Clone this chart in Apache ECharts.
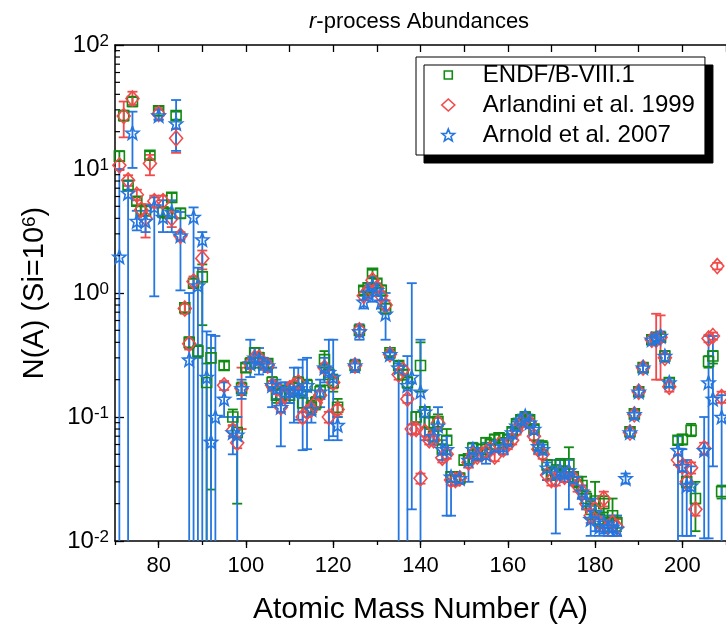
<!DOCTYPE html>
<html>
<head>
<meta charset="utf-8">
<script src="https://cdn.jsdelivr.net/npm/echarts@6/dist/echarts.min.js"></script>
<style>html,body{margin:0;padding:0;background:#fff}#c{width:726px;height:632px}</style>
</head>
<body>
<div id="c"></div>
<script>
// ---- data: [A, value, lower, upper] ----
const endf = [
[71,12.7,11.6,13.9],[72,27,24.5,29.5],[73,7.4,6.8,8.0],[74,35,32,38],[75,5.5,5.1,5.9],[76,4.6,4.2,5.0],[77,4.6,4.2,5.0],[78,12.9,12.0,13.9],
[80,29.5,27,32],[81,4.5,4.1,4.9],[82,4.4,4.0,4.8],[83,5.9,5.4,6.4],[84,27,25,29],[85,4.4,4.0,4.8],[86,0.76,0.7,0.82],[87,0.4,0.36,0.44],
[88,1.2,1.1,1.3],[89,0.34,0.3,0.38],[90,1.35,0.55,1.7],[91,0.19,0.001,0.27],[92,0.3,0.026,0.36],[95,0.26,0.24,0.28],[97,0.1,0.085,0.115],
[98,0.075,0.02,0.1],[99,0.17,0.15,0.19],[100,0.25,0.23,0.27],[101,0.27,0.25,0.3],[102,0.33,0.3,0.36],[103,0.3,0.27,0.33],[104,0.27,0.25,0.3],
[105,0.27,0.25,0.29],[106,0.19,0.17,0.21],[107,0.15,0.13,0.17],[108,0.15,0.13,0.17],[109,0.16,0.14,0.18],[110,0.15,0.13,0.17],[111,0.17,0.15,0.19],
[112,0.19,0.17,0.21],[113,0.13,0.11,0.15],[114,0.18,0.16,0.2],[115,0.12,0.105,0.135],[116,0.13,0.115,0.145],[117,0.16,0.14,0.18],[118,0.29,0.25,0.34],
[119,0.22,0.18,0.25],[120,0.19,0.16,0.22],[121,0.12,0.1,0.14],[125,0.26,0.24,0.28],[126,0.5,0.46,0.54],[127,1.05,0.97,1.13],[128,1.1,1.02,1.2],
[129,1.44,1.34,1.54],[130,1.2,1.1,1.3],[131,1.05,0.95,1.15],[132,0.75,0.68,0.82],[133,0.33,0.31,0.35],[135,0.26,0.24,0.28],[136,0.22,0.2,0.24],
[137,0.19,0.17,0.21],[139,0.1,0.09,0.11],[140,0.26,0.16,0.4],[141,0.11,0.1,0.12],[142,0.09,0.08,0.1],[143,0.07,0.063,0.077],[144,0.092,0.078,0.105],
[145,0.055,0.05,0.06],[146,0.065,0.05,0.08],[147,0.033,0.03,0.036],[148,0.033,0.03,0.036],[149,0.032,0.029,0.035],[150,0.045,0.041,0.049],
[151,0.046,0.042,0.05],[152,0.056,0.051,0.061],[153,0.05,0.046,0.054],[154,0.055,0.05,0.06],[155,0.062,0.056,0.068],[156,0.06,0.055,0.066],
[157,0.066,0.06,0.072],[158,0.068,0.062,0.074],[159,0.062,0.057,0.067],[160,0.066,0.06,0.072],[161,0.076,0.07,0.082],[162,0.088,0.081,0.095],
[163,0.095,0.088,0.102],[164,0.1,0.093,0.107],[165,0.095,0.088,0.102],[166,0.08,0.074,0.086],[167,0.059,0.054,0.064],[168,0.057,0.05,0.064],
[169,0.041,0.037,0.045],[170,0.035,0.031,0.039],[171,0.036,0.032,0.041],[172,0.041,0.036,0.046],[173,0.036,0.032,0.04],[174,0.042,0.035,0.057],
[175,0.033,0.03,0.036],[176,0.03,0.027,0.033],[177,0.028,0.024,0.033],[178,0.022,0.019,0.025],[179,0.018,0.015,0.021],[180,0.021,0.017,0.03],
[181,0.015,0.013,0.017],[182,0.02,0.017,0.023],[183,0.014,0.012,0.016],[184,0.016,0.013,0.022],[185,0.014,0.012,0.016],[188,0.076,0.07,0.082],
[189,0.106,0.098,0.114],[190,0.16,0.148,0.172],[191,0.25,0.23,0.27],[193,0.42,0.39,0.45],[194,0.44,0.41,0.47],[195,0.44,0.41,0.47],
[196,0.31,0.28,0.34],[197,0.19,0.175,0.205],[199,0.065,0.06,0.07],[200,0.066,0.06,0.072],[201,0.03,0.027,0.033],[202,0.078,0.07,0.088],
[203,0.022,0.012,0.03],[206,0.28,0.25,0.31],[207,0.31,0.27,0.34],[209,0.025,0.022,0.028]
];
const arlandini = [
[71,10.7,9.8,11.6],[72,26.7,18,35],[73,8.1,7.3,8.9],[74,37,33,42],[75,6.2,5.6,6.8],[76,4.7,4.2,5.2],[77,4.0,2.8,5.2],[78,11.1,8.9,13],
[79,5.5,4.9,6.1],[80,27.8,25,31],[81,5.5,4.9,6.1],[83,4.0,3.4,4.6],[84,17.7,13.5,21],[85,2.9,2.7,3.1],[86,0.75,0.68,0.82],[87,0.39,0.35,0.43],
[88,1.24,1.12,1.36],[90,1.9,1.55,2.2],[95,0.18,0.165,0.195],[97,0.078,0.07,0.086],[98,0.062,0.056,0.068],[99,0.17,0.08,0.25],
[101,0.27,0.25,0.29],[102,0.3,0.28,0.32],[103,0.3,0.28,0.32],[104,0.27,0.25,0.29],[105,0.26,0.24,0.28],[106,0.18,0.165,0.195],
[107,0.17,0.155,0.185],[108,0.12,0.11,0.13],[109,0.15,0.14,0.16],[110,0.17,0.155,0.185],[111,0.18,0.165,0.195],[112,0.19,0.175,0.205],
[113,0.1,0.09,0.11],[114,0.11,0.1,0.12],[115,0.115,0.105,0.125],[116,0.13,0.12,0.14],[117,0.15,0.14,0.16],[118,0.25,0.23,0.27],
[119,0.1,0.09,0.11],[120,0.19,0.17,0.21],[121,0.115,0.105,0.125],[125,0.26,0.24,0.28],[126,0.5,0.46,0.54],[127,0.95,0.88,1.02],
[128,1.05,0.97,1.13],[129,1.27,1.17,1.37],[130,1.1,1.0,1.2],[131,0.95,0.87,1.03],[132,0.8,0.73,0.87],[133,0.32,0.3,0.34],[135,0.22,0.2,0.24],
[136,0.24,0.22,0.26],[137,0.14,0.13,0.15],[138,0.08,0.073,0.087],[139,0.08,0.073,0.087],[140,0.032,0.029,0.035],[141,0.076,0.07,0.082],
[142,0.065,0.06,0.07],[143,0.065,0.06,0.07],[144,0.09,0.082,0.098],[145,0.047,0.043,0.051],[146,0.05,0.046,0.054],[147,0.031,0.028,0.034],
[148,0.031,0.028,0.034],[149,0.032,0.029,0.035],[151,0.043,0.039,0.047],[152,0.05,0.046,0.054],[153,0.048,0.044,0.052],[154,0.05,0.046,0.054],
[155,0.052,0.048,0.056],[156,0.055,0.05,0.06],[157,0.048,0.044,0.052],[158,0.06,0.055,0.065],[159,0.055,0.05,0.06],[160,0.06,0.055,0.065],
[161,0.065,0.06,0.07],[162,0.078,0.072,0.084],[163,0.09,0.083,0.097],[164,0.095,0.088,0.102],[165,0.09,0.083,0.097],[166,0.07,0.065,0.075],
[167,0.055,0.05,0.06],[168,0.05,0.046,0.054],[169,0.034,0.031,0.037],[170,0.031,0.028,0.034],[171,0.031,0.028,0.034],[172,0.035,0.032,0.038],
[173,0.033,0.03,0.036],[174,0.035,0.032,0.038],[175,0.032,0.029,0.035],[176,0.028,0.025,0.031],[177,0.025,0.022,0.028],[178,0.02,0.018,0.022],
[179,0.016,0.014,0.018],[180,0.018,0.016,0.02],[181,0.014,0.012,0.016],[182,0.022,0.019,0.025],[183,0.013,0.011,0.015],[184,0.014,0.012,0.016],
[185,0.013,0.011,0.015],[188,0.075,0.069,0.081],[189,0.105,0.097,0.113],[190,0.16,0.15,0.17],[191,0.25,0.23,0.27],[193,0.42,0.39,0.45],
[194,0.42,0.2,0.68],[195,0.44,0.2,0.66],[196,0.3,0.28,0.32],[197,0.175,0.16,0.19],[199,0.045,0.041,0.049],[200,0.04,0.036,0.044],
[201,0.03,0.027,0.033],[202,0.039,0.035,0.043],[203,0.018,0.016,0.02],[205,0.056,0.05,0.062],[206,0.43,0.4,0.46],[207,0.45,0.42,0.48],
[208,1.65,1.55,1.75],[209,0.145,0.13,0.16]
];
const arnold = [
[71,1.96,0.001,10],[73,6.4,0.001,8.0],[74,19.6,10.2,29],[75,3.8,3.2,4.6],[77,3.8,3.1,4.6],[79,4.97,0.94,5.9],[80,27,25,30],[81,4.1,3.1,5.6],
[83,4.5,3.1,5.6],[84,23.3,14,36],[85,2.9,1.05,4.5],[87,0.29,0.001,1.0],[88,4.1,0.001,4.9],[89,1.15,0.001,1.6],[90,2.7,0.001,3.1],
[91,0.21,0.001,0.49],[92,0.063,0.001,0.46],[93,0.1,0.001,0.45],[95,0.14,0.1,0.19],[97,0.075,0.05,0.1],[98,0.072,0.001,0.1],[99,0.17,0.14,0.2],
[101,0.27,0.21,0.42],[102,0.3,0.25,0.36],[103,0.29,0.22,0.36],[104,0.27,0.24,0.3],[105,0.26,0.23,0.29],[106,0.18,0.12,0.25],[107,0.17,0.14,0.2],
[108,0.12,0.058,0.19],[109,0.16,0.13,0.19],[110,0.16,0.13,0.19],[111,0.16,0.09,0.25],[112,0.17,0.095,0.25],[113,0.16,0.054,0.29],
[114,0.18,0.055,0.3],[115,0.115,0.09,0.13],[117,0.16,0.12,0.2],[118,0.25,0.19,0.3],[119,0.23,0.065,0.42],[120,0.21,0.07,0.42],
[121,0.086,0.065,0.1],[125,0.26,0.23,0.29],[126,0.49,0.42,0.56],[127,0.85,0.75,0.95],[128,1.0,0.9,1.1],[129,1.15,0.85,1.35],[130,1.05,0.95,1.15],
[131,0.85,0.75,0.95],[132,0.68,0.42,1.0],[133,0.32,0.3,0.34],[135,0.25,0.001,0.27],[137,0.18,0.001,0.31],[138,0.21,0.018,1.2],
[140,0.16,0.001,0.42],[141,0.11,0.065,0.12],[143,0.07,0.06,0.08],[144,0.085,0.06,0.12],[145,0.055,0.045,0.065],[146,0.055,0.016,0.07],
[147,0.033,0.016,0.036],[149,0.032,0.029,0.035],[151,0.045,0.03,0.05],[152,0.055,0.048,0.062],[153,0.05,0.045,0.055],[155,0.05,0.042,0.062],
[157,0.058,0.052,0.064],[159,0.058,0.05,0.065],[160,0.065,0.058,0.072],[161,0.075,0.068,0.082],[162,0.085,0.078,0.092],[163,0.095,0.088,0.102],
[164,0.102,0.094,0.11],[165,0.09,0.083,0.097],[166,0.08,0.073,0.087],[167,0.058,0.053,0.063],[168,0.055,0.05,0.06],[169,0.039,0.031,0.043],
[171,0.035,0.0115,0.045],[172,0.037,0.032,0.045],[173,0.035,0.03,0.04],[174,0.037,0.018,0.045],[175,0.032,0.028,0.036],[177,0.025,0.022,0.028],
[178,0.021,0.018,0.024],[179,0.015,0.011,0.02],[180,0.017,0.012,0.022],[181,0.013,0.011,0.015],[182,0.014,0.0115,0.016],[183,0.013,0.011,0.015],
[184,0.013,0.011,0.016],[185,0.0125,0.011,0.016],[187,0.032,0.029,0.035],[188,0.075,0.069,0.081],[189,0.105,0.097,0.113],[190,0.16,0.145,0.175],
[191,0.25,0.23,0.27],[193,0.42,0.39,0.45],[194,0.43,0.4,0.46],[195,0.45,0.41,0.49],[196,0.31,0.28,0.34],[197,0.19,0.175,0.205],
[199,0.054,0.001,0.07],[200,0.04,0.011,0.055],[201,0.028,0.011,0.045],[202,0.028,0.011,0.04],[205,0.054,0.0105,0.1],[206,0.19,0.0105,0.45],
[207,0.14,0.04,0.45],[209,0.1,0.001,0.15]
];
const seriesNames = ['ENDF/B-VIII.1', 'Arlandini et al. 1999', 'Arnold et al. 2007'];
const xTicks = [80, 100, 120, 140, 160, 180, 200];
const xMin = 70, xMax = 210;
const yMin = 0.01, yMax = 100;
const yMinorTicks = [0.02,0.03,0.04,0.05,0.06,0.07,0.08,0.09,0.2,0.3,0.4,0.5,0.6,0.7,0.8,0.9,2,3,4,5,6,7,8,9,20,30,40,50,60,70,80,90];

const FONT = 'Liberation Sans, Arial, sans-serif';
const colors = ['#118a11', '#f24a4a', '#2476e0'];
const starPath = 'path://M0,-10L2.6,-3.4L9.5,-3.1L4.1,1.3L6,8.1L0,4.2L-6,8.1L-4.1,1.3L-9.5,-3.1L-2.6,-3.4Z';
const symbols = ['rect', 'diamond', starPath];
const symSizes = [[10, 10], [13, 15], [13, 13]];
// legend icons: smaller square drawn inside the same icon box
const legendIcons = ['path://M0,0M12,12M2,2L10,2L10,10L2,10Z', 'diamond', starPath];
const datasets = [endf, arlandini, arnold];

function errSeries(data, color) {
  return {
    type: 'custom', xAxisIndex: 0, yAxisIndex: 0, clip: true, silent: true,
    data: data.map(d => [d[0], d[2], d[3]]),
    encode: { x: 0, y: [1, 2] },
    renderItem: function (params, api) {
      const x = api.value(0);
      const lo = api.coord([x, api.value(1)]);
      const hi = api.coord([x, api.value(2)]);
      const w = 5;
      const st = { stroke: color, lineWidth: 1.8 };
      return { type: 'group', children: [
        { type: 'line', shape: { x1: lo[0], y1: lo[1], x2: hi[0], y2: hi[1] }, style: st },
        { type: 'line', shape: { x1: lo[0] - w, y1: lo[1], x2: lo[0] + w, y2: lo[1] }, style: st },
        { type: 'line', shape: { x1: hi[0] - w, y1: hi[1], x2: hi[0] + w, y2: hi[1] }, style: st }
      ]};
    }
  };
}

const series = [];
datasets.forEach((ds, i) => {
  series.push(errSeries(ds, colors[i]));
  series.push({
    name: seriesNames[i], type: 'scatter', xAxisIndex: 0, yAxisIndex: 0,
    symbol: symbols[i], symbolSize: symSizes[i],
    data: ds.map(d => [d[0], d[1]]),
    itemStyle: { color: 'rgba(255,255,255,0)', borderColor: colors[i], borderWidth: 1.6, opacity: 1 },
    emphasis: { disabled: true }
  });
});
// minor ticks of the log axis (2..9 x 10^k)
series.push({
  type: 'custom', xAxisIndex: 0, yAxisIndex: 0, silent: true,
  data: yMinorTicks.map(v => [xMin, v]),
  renderItem: function (params, api) {
    const p = api.coord([api.value(0), api.value(1)]);
    return { type: 'line', shape: { x1: p[0], y1: p[1], x2: p[0] + 5, y2: p[1] }, style: { stroke: '#000', lineWidth: 1.2 } };
  }
});

const chart = echarts.init(document.getElementById('c'), null, { renderer: 'canvas' });
chart.setOption({
  animation: false,
  backgroundColor: '#fff',
  title: {
    text: '{i|r}{n|-process Abundances}',
    left: 304, top: 6,
    textStyle: { fontWeight: 'normal', rich: {
      i: { fontStyle: 'italic', fontWeight: 'normal', fontSize: 22, fontFamily: FONT, color: '#000' },
      n: { fontWeight: 'normal', fontSize: 22, fontFamily: FONT, color: '#000' }
    } }
  },
  legend: [
    {
      orient: 'vertical', left: 416, top: 57,
      padding: [6, 10, 8, 25], itemGap: 6, itemWidth: 13, itemHeight: 12,
      backgroundColor: '#fff', borderColor: '#000', borderWidth: 1,
      shadowColor: '#000', shadowBlur: 0, shadowOffsetX: 8, shadowOffsetY: 8,
      textStyle: { fontSize: 24, fontFamily: FONT, color: '#000', padding: [0, 0, 0, 23] },
      data: seriesNames.map((n, i) => ({ name: n, icon: legendIcons[i], itemStyle: { borderWidth: 1.6 } }))
    }
  ],
  grid: { left: 115, top: 45, bottom: 91, right: -4 },
  xAxis: [
    { type: 'value', position: 'bottom', min: xMin, max: xMax, interval: 10,
      name: 'Atomic Mass Number (A)', nameLocation: 'middle', nameGap: 54,
      nameTextStyle: { fontSize: 30, fontFamily: FONT, color: '#000' },
      axisLine: { show: true, onZero: false, lineStyle: { color: '#000', width: 1.5 } },
      axisTick: { show: true, inside: false, length: 4, lineStyle: { color: '#000', width: 1.3 } },
      axisLabel: { customValues: xTicks, margin: 14, fontSize: 22, fontFamily: FONT, color: '#000' },
      splitLine: { show: false } },
    { type: 'value', position: 'top', min: xMin, max: xMax, interval: 10,
      axisLine: { show: true, onZero: false, lineStyle: { color: '#000', width: 1.5 } },
      axisTick: { show: true, inside: true, length: 7, lineStyle: { color: '#000', width: 1.3 } },
      axisLabel: { show: false }, splitLine: { show: false } },
    { type: 'value', position: 'bottom', min: xMin, max: xMax,
      axisLine: { show: false },
      axisTick: { show: true, inside: false, length: 7, customValues: xTicks, lineStyle: { color: '#000', width: 1.3 } },
      axisLabel: { show: false }, splitLine: { show: false } }
  ],
  yAxis: [
    { type: 'log', logBase: 10, min: yMin, max: yMax,
      name: '{n|N(A) (Si=10}{s|6}{n|)}', nameLocation: 'middle', nameGap: 66,
      nameTextStyle: { rich: {
        n: { fontSize: 29, fontFamily: FONT, color: '#000' },
        s: { fontSize: 19, fontFamily: FONT, color: '#000', verticalAlign: 'top', lineHeight: 18 }
      } },
      axisLine: { show: true, onZero: false, lineStyle: { color: '#000', width: 1.5 } },
      axisTick: { show: true, inside: true, length: 9, lineStyle: { color: '#000', width: 1.3 } },
      axisLabel: {
        margin: 6, color: '#000',
        formatter: v => '{b|10}{s|' + Math.round(Math.log10(v)) + '}',
        rich: {
          b: { fontSize: 24, fontFamily: FONT, color: '#000' },
          s: { fontSize: 17, fontFamily: FONT, color: '#000', verticalAlign: 'top' }
        }
      },
      splitLine: { show: false } }
  ],
  series: series
});
</script>
</body>
</html>
